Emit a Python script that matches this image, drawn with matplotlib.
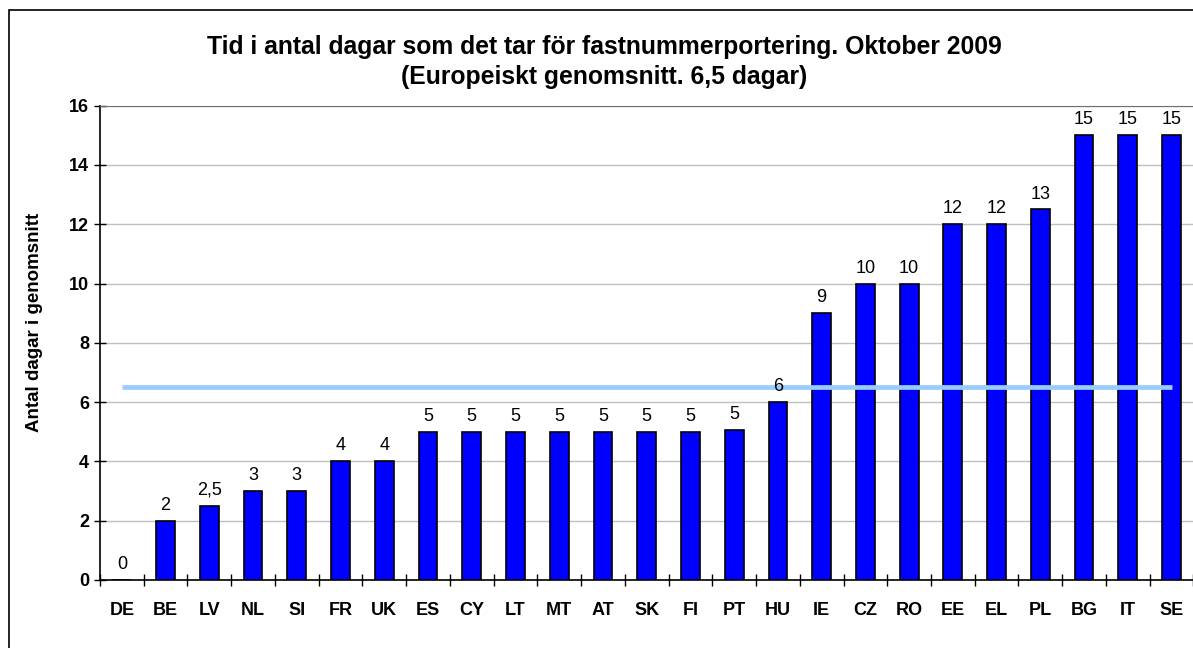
import numpy as np
import matplotlib
matplotlib.use("Agg")
import matplotlib.pyplot as plt
from matplotlib.patches import Rectangle

plt.rcParams["font.family"] = ["Liberation Sans", "DejaVu Sans"]

# data
COUNTRIES = ["DE", "BE", "LV", "NL", "SI", "FR", "UK", "ES", "CY", "LT", "MT", "AT",
             "SK", "FI", "PT", "HU", "IE", "CZ", "RO", "EE", "EL", "PL", "BG", "IT", "SE"]
DAYS = [0, 2, 2.5, 3, 3, 4, 4, 5, 5, 5, 5, 5,
        5, 5, 5.05, 6, 9, 10, 10, 12, 12, 12.5, 15, 15, 15]
BAR_LABELS = ["0", "2", "2,5", "3", "3", "4", "4", "5", "5", "5", "5", "5",
              "5", "5", "5", "6", "9", "10", "10", "12", "12", "13", "15", "15", "15"]
EU_AVERAGE = 6.5
Y_TICKS = [0, 2, 4, 6, 8, 10, 12, 14, 16]

TITLE = ("Tid i antal dagar som det tar för fastnummerportering. Oktober 2009\n"
         "(Europeiskt genomsnitt. 6,5 dagar)")
YLABEL = "Antal dagar i genomsnitt"

W, H = 1193, 648
fig = plt.figure(figsize=(W / 100, H / 100), dpi=100)

# outer chart frame (cut off at right and bottom in the reference)
fig.patches.append(Rectangle((9 / W, -0.05), 1.2, 1 - 10 / H + 0.05,
                             transform=fig.transFigure, fill=False,
                             edgecolor="black", linewidth=1.2, clip_on=False))

left, right, top, bottom = 100, 1193.4, 105.7, 580
ax = fig.add_axes([left / W, 1 - bottom / H, (right - left) / W, (bottom - top) / H])

x = np.arange(len(COUNTRIES))
ax.bar(x, DAYS, width=0.43, color="#0000FF", edgecolor="black", linewidth=1.2, zorder=3)

# European average line
ax.plot([x[0], x[-1]], [EU_AVERAGE, EU_AVERAGE], color="#99CCFF",
        linewidth=3.4, solid_capstyle="butt", zorder=4)

for xi, v, lab in zip(x, DAYS, BAR_LABELS):
    ax.annotate(lab, (xi, v), xytext=(0, 5), textcoords="offset points",
                ha="center", va="bottom", fontsize=13, zorder=5)

ax.set_xlim(-0.5, len(COUNTRIES) - 0.5)
ax.set_ylim(0, 16)
ax.set_yticks(Y_TICKS)
ax.set_yticklabels([str(t) for t in Y_TICKS], fontsize=13, fontweight="bold")
ax.set_xticks(x)
ax.set_xticklabels(COUNTRIES, fontsize=13, fontweight="bold")
ax.set_xticks(np.arange(-0.5, len(COUNTRIES), 1), minor=True)
ax.tick_params(axis="x", which="major", length=0, pad=16)
ax.tick_params(axis="x", which="minor", direction="inout", length=8, width=1)
ax.tick_params(axis="y", direction="inout", length=8, width=1, pad=4)

ax.grid(axis="y", color="#C0C0C0", linewidth=1, zorder=0)
ax.spines["right"].set_visible(False)
ax.spines["top"].set_color("#707070")
ax.spines["left"].set_linewidth(1.2)
ax.spines["bottom"].set_linewidth(1.2)

fig.text(604 / W, 1 - 62 / H, TITLE, ha="center", va="center",
         fontsize=17.8, fontweight="bold", linespacing=1.3)
fig.text(35 / W, 1 - 322 / H, YLABEL, ha="center", va="center", rotation=90,
         fontsize=13.5, fontweight="bold")

fig.savefig("out.png", dpi=100)
